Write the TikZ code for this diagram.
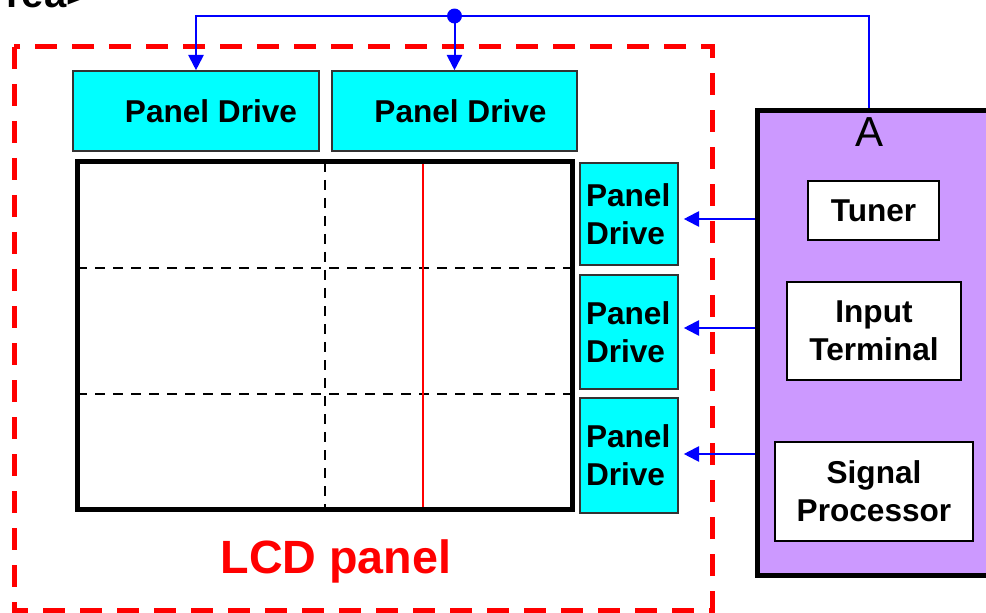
\documentclass[tikz,border=0pt]{standalone}
\usepackage{fontspec}
\setmainfont{Liberation Sans}
\usetikzlibrary{arrows.meta,calc}
\definecolor{lavender}{HTML}{CC99FF}
\definecolor{cyanbox}{HTML}{00FFFF}
\def\pxu{0.75pt}
\begin{document}
\begin{tikzpicture}[x=0.75pt,y=-0.75pt,
  lbl/.style={font=\bfseries\fontsize{23.7}{28.4}\selectfont},
  pd/.style={draw=black!80, line width=1.2pt, fill=cyanbox, inner sep=0pt},
  pdr/.style={pd, lbl, align=left, text width=86*\pxu, inner xsep=6*\pxu, minimum width=98*\pxu},
  wbox/.style={draw=black, line width=1.5pt, fill=white, inner sep=0pt, lbl, align=center},
  arr/.style={draw=blue, line width=1.5pt, -{Triangle[length=11.5pt,width=11.5pt]}},
  gdash/.style={draw=black, line width=1.5pt, dash pattern=on 7.5pt off 6pt},
  reddash/.style={draw=red, line width=3.75pt, dash pattern=on 16.5pt off 11.25pt}]
\useasboundingbox (0,0) rectangle (986,613);
\clip (0,0) rectangle (986,613);

% partial title
\node[anchor=base east, inner sep=0pt, font=\bfseries\fontsize{30}{36}\selectfont] (title) at (90,8) {rea>};

% LCD panel outline
\draw[reddash] (14,47) rectangle (712,610);

% top panel drives
\node[pd, minimum width=246*\pxu, minimum height=80*\pxu,
  label={[lbl, xshift=11.25pt]center:Panel Drive}] (pdt1) at (196,111) {};
\node[pd, minimum width=245*\pxu, minimum height=80*\pxu,
  label={[lbl, xshift=4.5pt]center:Panel Drive}] (pdt2) at (454.5,111) {};

% screen grid
\draw[gdash] (325,162) -- (325,509);
\draw[gdash] (77,268) -- (572,268);
\draw[gdash] (77,394) -- (572,394);
\draw[red, line width=1.2pt] (423,162) -- (423,512);
\draw[line width=3.75pt] (77,162) rectangle (572,509);

% right panel drives
\node[pdr, minimum height=102*\pxu] (pdr1) at (629,214) {Panel\\Drive};
\node[pdr, minimum height=114*\pxu] (pdr2) at (629,332) {Panel\\Drive};
\node[pdr, minimum height=115*\pxu] (pdr3) at (629,455.5) {Panel\\Drive};

% source unit
\node[draw=black, line width=3.75pt, fill=lavender, minimum width=253*\pxu,
  minimum height=464*\pxu, inner sep=0pt] (purple) at (883.5,343) {};
\node[font=\fontsize{31.5}{37.8}\selectfont, inner sep=0pt] (A) at (869,132) {A};
\node[wbox, minimum width=131*\pxu, minimum height=59*\pxu] (tuner) at (873.5,210.5) {Tuner};
\node[wbox, minimum width=174*\pxu, minimum height=98*\pxu] (input) at (874,331) {Input\\Terminal};
\node[wbox, minimum width=198*\pxu, minimum height=99*\pxu] (signal) at (874,491.5) {Signal\\Processor};

% LCD panel label
\node[anchor=base, inner sep=0pt, text=red, font=\bfseries\fontsize{35}{42}\selectfont] (lcd) at (336,573) {LCD panel};

% connectors
\coordinate (dot) at (pdt2.north |- 0,16);
\draw[arr] (A |- purple.north) |- (dot) -| (pdt1.north);
\draw[arr] (dot) -- (pdt2.north);
\fill[blue] (dot) circle[radius=5.6pt];

\draw[arr, shorten >=3.75pt] (purple.west |- 0,219) -- (pdr1.east |- 0,219);
\draw[arr, shorten >=3.75pt] (purple.west |- 0,328) -- (pdr2.east |- 0,328);
\draw[arr, shorten >=3.75pt] (purple.west |- 0,454) -- (pdr3.east |- 0,454);
\end{tikzpicture}
\end{document}
